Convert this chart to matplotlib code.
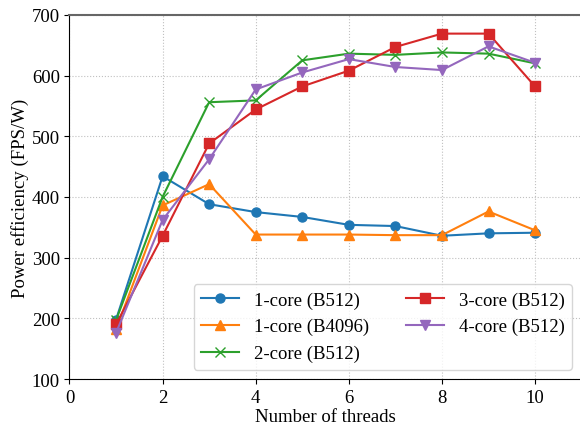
import numpy as np
import matplotlib.pyplot as plt

plt.rcParams['font.family'] = ['Liberation Serif', 'DejaVu Serif']
plt.rcParams['mathtext.fontset'] = 'stix'

threads = [1, 2, 3, 4, 5, 6, 7, 8, 9, 10]

core1_b512 = [198, 434, 388, 375, 367, 354, 352, 336, 340, 341]
core1_b4096 = [182, 386, 421, 338, 338, 338, 337, 337, 376, 345]
core2_b512 = [197, 400, 556, 559, 625, 636, 634, 638, 636, 620]
core3_b512 = [190, 336, 488, 544, 582, 608, 647, 669, 669, 582]
core4_b512 = [176, 362, 462, 577, 605, 627, 614, 609, 648, 621]

fig = plt.figure(figsize=(5.8, 4.27), dpi=100)
ax = fig.add_axes([0.1198, 0.110, 0.883, 0.853])

ax.plot(threads, core1_b512, marker="o", markersize=6.5, label="1-core (B512)")
ax.plot(threads, core1_b4096, marker="^", markersize=6.5, label="1-core (B4096)")
ax.plot(threads, core2_b512, marker="x", markersize=6.5, label="2-core (B512)")
ax.plot(threads, core3_b512, marker="s", markersize=6.5, label="3-core (B512)")
ax.plot(threads, core4_b512, marker="v", markersize=6.5, label="4-core (B512)")

ax.set_xlim(0, 11)
ax.set_ylim(100, 700)
ax.set_xticks([0, 2, 4, 6, 8, 10])
ax.grid(True, linestyle=":", color="#c0c0c0")
ax.spines["top"].set_color("#666666")
ax.spines["top"].set_linewidth(1.5)
ax.tick_params(labelsize=13.5)
ax.set_xlabel("Number of threads", size=13.5, labelpad=1.5)
ax.set_ylabel("Power efficiency (FPS/W)", size=13.5, labelpad=2)
ax.legend(loc="lower right", ncol=2, fontsize=13.5)

fig.savefig("out.png", dpi=100)
